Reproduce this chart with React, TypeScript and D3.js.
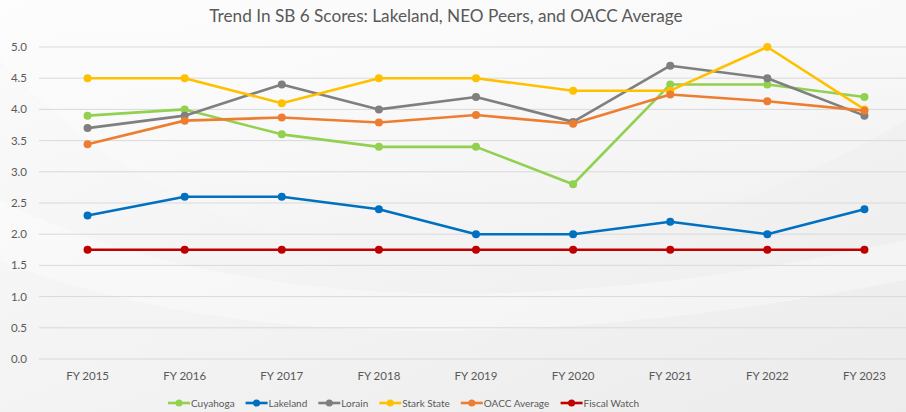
import React, { useMemo } from "react";
import * as d3 from "d3";

const W = 906;
const H = 412;

const years = ["FY 2015", "FY 2016", "FY 2017", "FY 2018", "FY 2019", "FY 2020", "FY 2021", "FY 2022", "FY 2023"];

const cuyahoga = [3.9, 4.0, 3.6, 3.4, 3.4, 2.8, 4.4, 4.4, 4.2];
const lakeland = [2.3, 2.6, 2.6, 2.4, 2.0, 2.0, 2.2, 2.0, 2.4];
const lorain = [3.7, 3.9, 4.4, 4.0, 4.2, 3.8, 4.7, 4.5, 3.9];
const starkState = [4.5, 4.5, 4.1, 4.5, 4.5, 4.3, 4.3, 5.0, 4.0];
const oaccAverage = [3.44, 3.82, 3.87, 3.79, 3.91, 3.77, 4.24, 4.13, 3.98];
const fiscalWatch = [1.75, 1.75, 1.75, 1.75, 1.75, 1.75, 1.75, 1.75, 1.75];

const yTicks = [0, 0.5, 1, 1.5, 2, 2.5, 3, 3.5, 4, 4.5, 5];

const series = [
  { name: "Cuyahoga", color: "#92D050", values: cuyahoga },
  { name: "Lakeland", color: "#0070C0", values: lakeland },
  { name: "Lorain", color: "#7F7F7F", values: lorain },
  { name: "Stark State", color: "#FFC000", values: starkState },
  { name: "OACC Average", color: "#ED7D31", values: oaccAverage },
  { name: "Fiscal Watch", color: "#C00000", values: fiscalWatch },
];

const FONT = "Lato, 'Open Sans', sans-serif";
const TEXT = "#595959";
const LEGEND_SIZE = 10;

export default function App() {
  const x = d3.scaleBand<string>().domain(years).range([39, 913]);
  const y = d3.scaleLinear().domain([0, 5]).range([359, 47]);

  const cx = (i: number) => (x(years[i]) as number) + x.bandwidth() / 2;

  const line = d3
    .line<number>()
    .x((_, i) => cx(i))
    .y((d) => y(d));

  // legend flow layout, measured with a canvas
  const legend = useMemo(() => {
    const ctx = document.createElement("canvas").getContext("2d")!;
    ctx.font = `${LEGEND_SIZE}px ${FONT}`;
    let lx = 168;
    return series.map((s) => {
      const item = { ...s, x: lx };
      lx += 23 + ctx.measureText(s.name).width + 11;
      return item;
    });
  }, []);

  return (
    <svg
      width={W}
      height={H}
      style={{ position: "absolute", left: 0, top: 0, fontFamily: FONT }}
    >
      <defs>
        <linearGradient id="bg" x1="0" y1="0" x2="1" y2="1">
          <stop offset="0" stopColor="#fbfbfb" />
          <stop offset="0.5" stopColor="#f3f3f3" />
          <stop offset="1" stopColor="#ececec" />
        </linearGradient>
        <linearGradient id="swoosh" x1="0" y1="0" x2="0" y2="1">
          <stop offset="0" stopColor="#ffffff" stopOpacity="0.9" />
          <stop offset="1" stopColor="#ffffff" stopOpacity="0" />
        </linearGradient>
      </defs>
      <rect width={W} height={H} fill="url(#bg)" />
      <path d="M0,60 C250,330 600,300 906,120 L906,0 L0,0 Z" fill="url(#swoosh)" opacity={0.6} />
      <path d="M0,200 C200,300 500,330 906,240 L906,280 C500,360 200,340 0,260 Z" fill="#ffffff" opacity={0.35} />

      <text x={446} y={22} textAnchor="middle" fontSize={17.2} fill={TEXT}>
        Trend In SB 6 Scores: Lakeland, NEO Peers, and OACC Average
      </text>

      <g>
        {yTicks.map((t) => (
          <g key={t}>
            <line x1={39} x2={W} y1={y(t)} y2={y(t)} stroke="#d9d9d9" strokeWidth={1} />
            <text x={27} y={y(t)} dy="0.35em" textAnchor="end" fontSize={11.5} fill={TEXT}>
              {t.toFixed(1)}
            </text>
          </g>
        ))}
      </g>

      <g>
        {years.map((yr, i) => (
          <text key={yr} x={cx(i)} y={380} textAnchor="middle" fontSize={11.5} fill={TEXT}>
            {yr}
          </text>
        ))}
      </g>

      {series.map((s) => (
        <g key={s.name}>
          <path d={line(s.values) || ""} fill="none" stroke={s.color} strokeWidth={2.6} strokeLinejoin="round" />
          {s.values.map((v, i) => (
            <circle key={i} cx={cx(i)} cy={y(v)} r={4} fill={s.color} />
          ))}
        </g>
      ))}

      <g>
        {legend.map((s) => (
          <g key={s.name} transform={`translate(${s.x},403)`}>
            <line x1={0} x2={22} y1={0} y2={0} stroke={s.color} strokeWidth={2.6} />
            <circle cx={11} cy={0} r={3.5} fill={s.color} />
            <text x={23} y={0} dy="0.35em" fontSize={LEGEND_SIZE} fill={TEXT}>
              {s.name}
            </text>
          </g>
        ))}
      </g>
    </svg>
  );
}
